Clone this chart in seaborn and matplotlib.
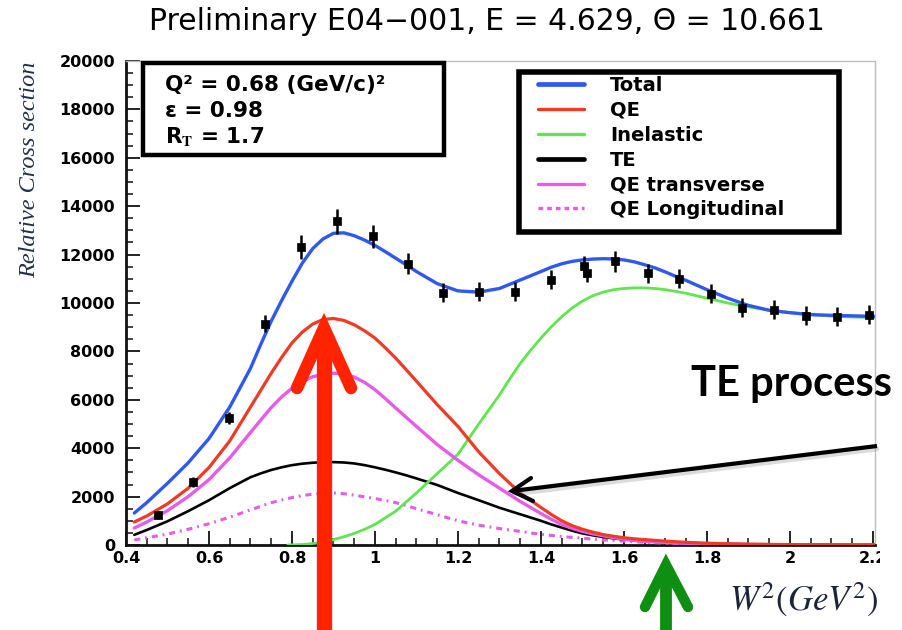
import matplotlib
matplotlib.use("Agg")
import matplotlib.pyplot as plt
from matplotlib.lines import Line2D
from matplotlib.patches import Rectangle
from matplotlib.transforms import Affine2D, Bbox, TransformedBbox
from matplotlib.ticker import MultipleLocator
import seaborn as sns

# ---------------------------------------------------------------- data
# model curves on a W^2 grid (GeV^2), denser around the peaks
w2_grid = [0.42, 0.45, 0.50, 0.55, 0.60, 0.65,
           0.70, 0.725, 0.75, 0.775, 0.80, 0.825, 0.85, 0.875, 0.90, 0.925,
           0.95, 0.975, 1.00, 1.025, 1.05, 1.075, 1.10,
           1.15, 1.20, 1.25, 1.30, 1.35,
           1.40, 1.425, 1.45, 1.475, 1.50, 1.525, 1.55, 1.575, 1.60, 1.625,
           1.65, 1.675, 1.70, 1.725, 1.75,
           1.80, 1.85, 1.90, 1.95, 2.00, 2.05, 2.10, 2.15, 2.21]
total = [1320, 1750, 2550, 3400, 4400, 5700,
         7300, 8300, 9250, 10100, 10900, 11650, 12250, 12650, 12880, 12900,
         12780, 12600, 12380, 12120, 11850, 11580, 11300,
         10800, 10500, 10450, 10600, 10950,
         11300, 11480, 11620, 11720, 11780, 11815, 11830, 11820, 11780, 11700,
         11580, 11450, 11280, 11100, 10930,
         10550, 10200, 9900, 9700, 9600, 9520, 9490, 9470, 9440]
qe = [950, 1200, 1700, 2350, 3200, 4300,
      5700, 6400, 7100, 7750, 8350, 8800, 9130, 9320, 9360, 9280,
      9100, 8850, 8550, 8150, 7720, 7250, 6770,
      5800, 4900, 3850, 2950, 2150,
      1550, 1260, 1000, 800, 650, 530, 430, 360, 300, 255,
      220, 190, 160, 135, 110,
      75, 50, 35, 25, 18, 12, 8, 5, 3]
te = [420, 620, 980, 1400, 1850, 2350,
      2800, 2960, 3100, 3210, 3300, 3360, 3400, 3420, 3425, 3410,
      3370, 3300, 3210, 3110, 3000, 2880, 2750,
      2480, 2150, 1850, 1540, 1270,
      1000, 850, 720, 590, 480, 400, 330, 275, 230, 192,
      160, 133, 110, 94, 80,
      55, 40, 28, 20, 14, 10, 7, 5, 3]
qe_transverse = [700, 950, 1420, 2000, 2700, 3600,
                 4650, 5170, 5680, 6120, 6480, 6760, 6950, 7060, 7100, 7060,
                 6940, 6720, 6420, 6050, 5660, 5280, 4900,
                 4150, 3500, 2900, 2350, 1800,
                 1300, 1060, 850, 690, 560, 460, 380, 305, 240, 190,
                 150, 122, 100, 84, 70,
                 45, 30, 20, 14, 10, 7, 5, 3, 2]
qe_longitudinal = [210, 300, 450, 650, 880, 1150,
                   1450, 1600, 1750, 1860, 1960, 2040, 2100, 2140, 2150, 2120,
                   2060, 1990, 1920, 1840, 1750, 1630, 1500,
                   1250, 1000, 820, 680, 560,
                   440, 395, 350, 315, 280, 245, 210, 185, 160, 135,
                   110, 95, 80, 70, 60,
                   45, 35, 25, 18, 12, 8, 6, 4, 2]

w2_inel = [0.79, 0.825, 0.85, 0.875, 0.90, 0.925, 0.95, 0.975, 1.00,
           1.05, 1.10, 1.15, 1.20, 1.25,
           1.30, 1.325, 1.35, 1.375, 1.40, 1.425, 1.45, 1.475, 1.50, 1.525,
           1.55, 1.575, 1.60, 1.625, 1.65, 1.675, 1.70, 1.725, 1.75, 1.775, 1.80,
           1.85, 1.90, 1.95, 2.00, 2.05, 2.10, 2.15, 2.21]
inelastic = [0, 20, 60, 130, 220, 340, 480, 650, 850,
             1400, 2150, 2950, 3750, 5000,
             6200, 6870, 7500, 8050, 8550, 9020, 9430, 9790, 10080, 10300,
             10450, 10550, 10600, 10625, 10625, 10600, 10550, 10480, 10400, 10300, 10200,
             10000, 9840, 9700, 9600, 9520, 9460, 9420, 9400]

# measured cross section
w2_data = [0.477, 0.561, 0.648, 0.735, 0.822, 0.908, 0.995, 1.080, 1.164,
           1.251, 1.337, 1.424, 1.504, 1.511, 1.578, 1.658, 1.733, 1.810,
           1.884, 1.961, 2.039, 2.113, 2.190]
xs_data = [1240, 2610, 5260, 9150, 12300, 13370, 12750, 11630, 10430,
           10470, 10470, 10970, 11510, 11260, 11720, 11220, 11010, 10390,
           9810, 9730, 9480, 9440, 9520]
xs_err = [150, 200, 250, 350, 500, 500, 480, 450, 400,
          400, 400, 400, 420, 400, 430, 400, 400, 400,
          400, 380, 380, 380, 400]

x_ticks = [0.4, 0.6, 0.8, 1.0, 1.2, 1.4, 1.6, 1.8, 2.0, 2.2]
x_tick_labels = ["0.4", "0.6", "0.8", "1", "1.2", "1.4", "1.6", "1.8", "2", "2.2"]
y_ticks = [0, 2000, 4000, 6000, 8000, 10000, 12000, 14000, 16000, 18000, 20000]

legend_labels = ["Total", "QE", "Inelastic", "TE", "QE transverse", "QE Longitudinal"]

# ---------------------------------------------------------------- style
sns.set_style("ticks")
plt.rcParams["font.family"] = ["DejaVu Sans"]
plt.rcParams["mathtext.fontset"] = "stix"
plt.rcParams["text.color"] = "black"
plt.rcParams["xtick.color"] = "black"
plt.rcParams["ytick.color"] = "black"
plt.rcParams["xtick.labelcolor"] = "black"
plt.rcParams["ytick.labelcolor"] = "black"

C_TOTAL = "#2f58ee"
C_QE = "#ef3a26"
C_INEL = "#5ee64c"
C_TE = "#000000"
C_MAG = "#e65ce8"

W, H = 902, 630
fig = plt.figure(figsize=(W / 100, H / 100), dpi=100)
ax = fig.add_axes([126 / W, 1 - 545 / H, (875 - 126) / W, (545 - 61) / H])

# pixel coordinates measured from the top-left corner of the figure
px = Affine2D().scale(1 / W, -1 / H).translate(0, 1) + fig.transFigure

# ---------------------------------------------------------------- curves
sns.lineplot(x=w2_grid, y=qe_longitudinal, ax=ax, color=C_MAG, lw=2.2,
             linestyle=(0, (2.0, 1.6, 0.6, 1.6)), zorder=3)
sns.lineplot(x=w2_grid, y=te, ax=ax, color=C_TE, lw=1.9, zorder=3)
sns.lineplot(x=w2_inel, y=inelastic, ax=ax, color=C_INEL, lw=2.0, zorder=3)
sns.lineplot(x=w2_grid, y=qe_transverse, ax=ax, color=C_MAG, lw=2.4, zorder=4)
sns.lineplot(x=w2_grid, y=qe, ax=ax, color=C_QE, lw=2.3, zorder=4)
sns.lineplot(x=w2_grid, y=total, ax=ax, color=C_TOTAL, lw=2.4, zorder=5)

# data points with vertical error bars
ax.errorbar(w2_data, xs_data, yerr=xs_err, fmt="none", ecolor="black",
            elinewidth=1.8, capsize=0, zorder=6)
sns.scatterplot(x=w2_data, y=xs_data, ax=ax, marker="s", s=38,
                color="black", edgecolor="black", linewidth=0.5, zorder=7)

# ---------------------------------------------------------------- axes
ax.set_xlim(0.4, 2.205)
ax.set_ylim(0, 20000)
ax.set_xticks(x_ticks)
ax.set_xticklabels(x_tick_labels)
ax.set_yticks(y_ticks)
ax.set_yticklabels([str(v) for v in y_ticks])
ax.xaxis.set_minor_locator(MultipleLocator(0.05))
ax.yaxis.set_minor_locator(MultipleLocator(500))
ax.tick_params(which="major", direction="in", length=10, width=1.4,
               color="#222222", labelcolor="black", top=False, right=False)
ax.tick_params(which="minor", direction="in", length=5, width=1.2,
               color="#222222", top=False, right=False)
ax.tick_params(axis="x", which="major", pad=4)
ax.tick_params(axis="y", which="major", pad=8)
for lab in ax.get_xticklabels() + ax.get_yticklabels():
    lab.set_fontweight("bold")
    lab.set_fontsize(11.5)
ax.set_xlabel("")
ax.set_ylabel("")
for side in ("left", "bottom"):
    ax.spines[side].set_linewidth(2.0)
    ax.spines[side].set_color("#111111")
for side in ("top", "right"):
    ax.spines[side].set_linewidth(1.0)
    ax.spines[side].set_color("#bdbdbd")

# ---------------------------------------------------------------- titles
fig.text(487, 22, "Preliminary E04\u2212001, E = 4.629, \u0398 = 10.661",
         transform=px, ha="center", va="center", fontsize=21.5, color="black")
fig.text(30, 170, "Relative Cross section", transform=px, rotation=90,
         ha="center", va="center", family="Liberation Serif", style="italic",
         fontsize=17.5, color="#24304a")
fig.text(804, 600, r"$W^2(GeV^2)$", transform=px, ha="center", va="center",
         fontsize=25, color="#1c2438")

# ---------------------------------------------------------------- info box
fig.add_artist(Rectangle((143, 63), 301, 92, transform=px, fill=True,
                         facecolor="white", edgecolor="black", lw=3.2, zorder=8))
info = ["Q\u00b2 = 0.68 (GeV/c)\u00b2", "\u03b5 = 0.98", r"R$_\mathbf{T}$ = 1.7"]
for i, s in enumerate(info):
    fig.text(165, 85 + 26 * i, s, transform=px, ha="left", va="center",
             fontsize=15.5, fontweight="bold", color="black", zorder=9)

# ---------------------------------------------------------------- legend
fig.add_artist(Rectangle((519, 72), 320, 160, transform=px, fill=True,
                         facecolor="white", edgecolor="black", lw=4.0, zorder=8))
handles = [
    Line2D([], [], color=C_TOTAL, lw=3.4),
    Line2D([], [], color=C_QE, lw=2.4),
    Line2D([], [], color=C_INEL, lw=2.4),
    Line2D([], [], color=C_TE, lw=3.4),
    Line2D([], [], color=C_MAG, lw=2.4),
    Line2D([], [], color=C_MAG, lw=2.4, linestyle=(0, (1.4, 1.2))),
]
leg = fig.legend(handles, legend_labels, loc="upper left",
                 bbox_to_anchor=(538, 76), bbox_transform=px, frameon=False,
                 borderpad=0, borderaxespad=0, handlelength=2.35,
                 handletextpad=1.35, labelspacing=0.3,
                 prop={"size": 14, "weight": "bold"}, labelcolor="black")
leg.set_zorder(10)

# ---------------------------------------------------------------- arrows
def arrow(x0, y0, x1, y1, wings, color, shaft_w, head_w):
    """Shaft from (x0, y0) to the tip (x1, y1) plus an open chevron head."""
    fig.add_artist(Line2D([x0, x1], [y0, y1 + 6], transform=px, color=color,
                          lw=shaft_w, solid_capstyle="butt", zorder=20))
    (ax_, ay_), (bx_, by_) = wings
    fig.add_artist(Line2D([ax_, x1, bx_], [ay_, y1, by_], transform=px,
                          color=color, lw=head_w, solid_capstyle="round",
                          solid_joinstyle="miter", zorder=20))

# big red arrow pointing at the QE peak
arrow(324, 640, 324, 328, [(297, 388), (351, 388)], "#ff2300", 11, 9)
# green arrow marking the inelastic onset
arrow(666, 640, 666, 565, [(645, 607), (688, 607)], "#0f8f12", 8.5, 7.5)

# TE label and its pointer
fig.add_artist(Line2D([877, 514], [449, 494], transform=px, color="#9a9a9a",
                      lw=3.5, alpha=0.35, zorder=19))
fig.add_artist(Line2D([877, 512], [446, 491], transform=px, color="black",
                      lw=3.0, solid_capstyle="butt", zorder=20))
fig.add_artist(Line2D([531, 512, 533], [478, 491, 501], transform=px,
                      color="black", lw=3.0, solid_capstyle="round",
                      solid_joinstyle="miter", zorder=20))
fig.text(691, 384, "TE process", transform=px, ha="left", va="center",
         family="Lato", fontweight="bold", fontsize=30, color="black", zorder=20)

# the rightmost tick label is cut at the figure's drawn area
fig.canvas.draw()
clip = TransformedBbox(Bbox.from_extents(0, 0, 880 / W, 1), fig.transFigure)
for lab in ax.get_xticklabels():
    lab.set_clip_box(clip)
    lab.set_clip_on(True)

fig.savefig("out.png", dpi=100)
